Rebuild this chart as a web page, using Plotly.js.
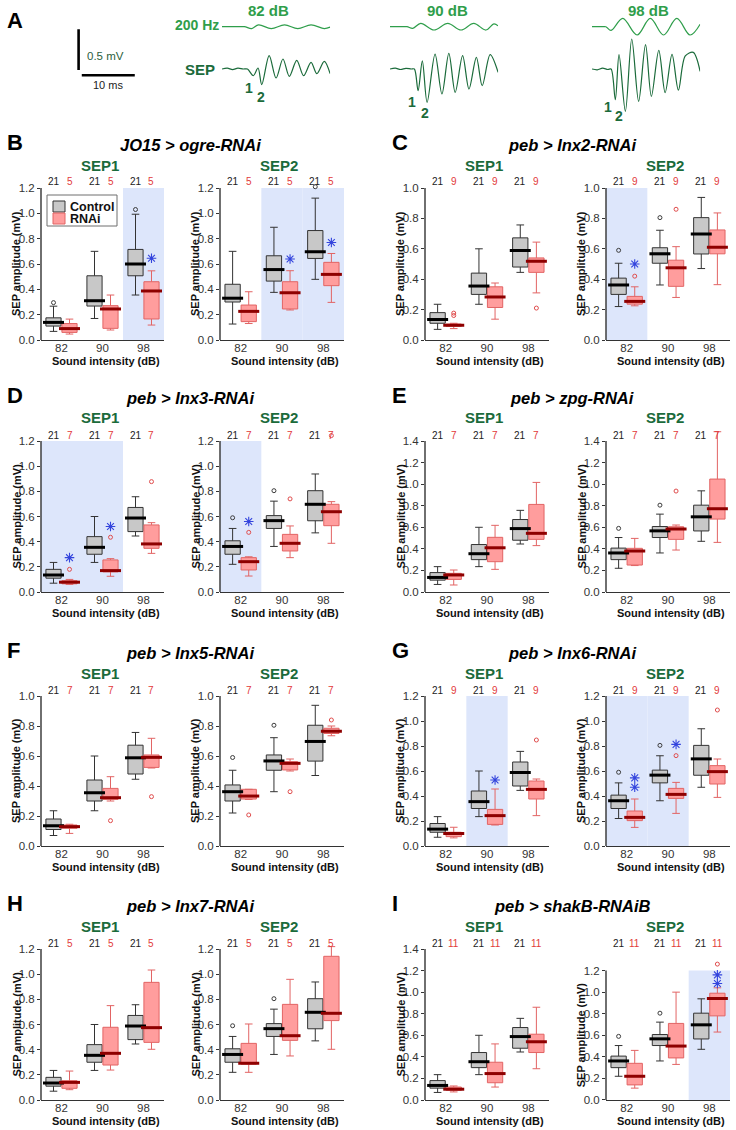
<!DOCTYPE html>
<html><head><meta charset="utf-8">
<script src="https://cdn.plot.ly/plotly-3.0.1.min.js"></script>
<style>html,body{margin:0;padding:0;background:#fff}#chart{width:736px;height:1130px}</style>
</head><body><div id="chart"></div>
<script>
// ---------------- DATA ----------------
const INTENSITY = ['82', '90', '98'];
const PANEL_LETTERS = ['B', 'C', 'D', 'E', 'F', 'G', 'H', 'I'];
const PANEL_TITLES = ['JO15 > ogre-RNAi', 'peb > Inx2-RNAi', 'peb > Inx3-RNAi', 'peb > zpg-RNAi',
  'peb > Inx5-RNAi', 'peb > Inx6-RNAi', 'peb > Inx7-RNAi', 'peb > shakB-RNAiB'];
const SEP_NAMES = ['SEP1', 'SEP2'];
const GROUP_NAMES = ['Control', 'RNAi'];
const N_CONTROL = [21, 21, 21, 21, 21, 21, 21, 21];
const N_RNAI = [5, 9, 7, 7, 7, 9, 5, 11];
const AXIS_TOP = [1.2, 1.0, 1.2, 1.4, 1.0, 1.2, 1.2, 1.4];
const TICK_TOP_SEP1 = [1.2, 1.0, 1.2, 1.4, 1.0, 1.2, 1.2, 1.4];
const TICK_TOP_SEP2 = [1.2, 1.0, 1.2, 1.4, 1.0, 1.2, 1.2, 1.2];

// box summaries per intensity: [lower whisker, Q1, median, Q3, upper whisker]
const JO15_SEP1_CTRL = [[0.068, 0.11, 0.139, 0.175, 0.267], [0.17, 0.268, 0.31, 0.507, 0.70], [0.355, 0.507, 0.60, 0.715, 0.993]];
const JO15_SEP1_CTRL_OUT = [[0.295], [], [1.03]];
const JO15_SEP2_CTRL = [[0.126, 0.30, 0.33, 0.44, 0.70], [0.376, 0.465, 0.556, 0.665, 0.89], [0.479, 0.644, 0.697, 0.864, 1.12]];
const JO15_SEP2_CTRL_OUT = [[], [], [1.21]];
const PEB_SEP1_CTRL = [[0.07, 0.11, 0.135, 0.18, 0.235], [0.235, 0.30, 0.355, 0.44, 0.60], [0.445, 0.48, 0.588, 0.672, 0.757]];
const PEB_SEP1_CTRL_OUT = [[], [], []];
const PEB_SEP2_CTRL = [[0.22, 0.30, 0.362, 0.407, 0.505], [0.362, 0.505, 0.567, 0.607, 0.722], [0.47, 0.566, 0.697, 0.805, 0.938]];
const PEB_SEP2_CTRL_OUT = [[0.59], [0.805], []];

const OGRE_SEP1 = [[0.047, 0.06, 0.09, 0.13, 0.165], [0.079, 0.092, 0.245, 0.271, 0.355], [0.118, 0.166, 0.387, 0.46, 0.546]];
const OGRE_SEP1_OUT = [[], [], []];
const OGRE_SEP2 = [[0.13, 0.145, 0.226, 0.276, 0.381], [0.237, 0.245, 0.373, 0.46, 0.547], [0.297, 0.429, 0.518, 0.613, 0.683]];
const OGRE_SEP2_OUT = [[], [], []];
const OGRE_SEP1_SIG = [[2, 0.645]];
const OGRE_SEP2_SIG = [[1, 0.64], [2, 0.77]];
const OGRE_SEP1_SHADE = [2];
const OGRE_SEP2_SHADE = [1, 2];

const INX2_SEP1 = [[0.075, 0.09, 0.097, 0.105, 0.11], [0.137, 0.214, 0.283, 0.35, 0.375], [0.31, 0.445, 0.518, 0.54, 0.644]];
const INX2_SEP1_OUT = [[0.161, 0.177], [], [0.21]];
const INX2_SEP2 = [[0.225, 0.236, 0.254, 0.287, 0.35], [0.28, 0.353, 0.475, 0.525, 0.614], [0.364, 0.567, 0.611, 0.724, 0.836]];
const INX2_SEP2_OUT = [[0.42], [0.86], []];
const INX2_SEP1_SIG = [];
const INX2_SEP2_SIG = [[0, 0.50]];
const INX2_SEP1_SHADE = [];
const INX2_SEP2_SHADE = [0];

const INX3_SEP1 = [[0.06, 0.065, 0.078, 0.09, 0.10], [0.125, 0.16, 0.17, 0.255, 0.265], [0.307, 0.347, 0.382, 0.533, 0.551]];
const INX3_SEP1_OUT = [[0.18], [0.435], [0.877]];
const INX3_SEP2 = [[0.127, 0.175, 0.241, 0.273, 0.28], [0.273, 0.326, 0.387, 0.458, 0.525], [0.387, 0.527, 0.638, 0.697, 0.718]];
const INX3_SEP2_OUT = [[0.474], [0.74], [1.243]];
const INX3_SEP1_SIG = [[0, 0.273], [1, 0.52]];
const INX3_SEP2_SIG = [[0, 0.56]];
const INX3_SEP1_SHADE = [0, 1];
const INX3_SEP2_SHADE = [0];

const ZPG_SEP1 = [[0.065, 0.117, 0.158, 0.173, 0.204], [0.21, 0.281, 0.41, 0.507, 0.618], [0.43, 0.488, 0.544, 0.812, 1.016]];
const ZPG_SEP1_OUT = [[], [], []];
const ZPG_SEP2 = [[0.245, 0.25, 0.38, 0.405, 0.497], [0.389, 0.488, 0.584, 0.605, 0.621], [0.46, 0.676, 0.772, 1.047, 1.486]];
const ZPG_SEP2_OUT = [[], [0.936], []];
const ZPG_SEP1_SIG = [];
const ZPG_SEP2_SIG = [];
const ZPG_SEP1_SHADE = [];
const ZPG_SEP2_SHADE = [];

const INX5_SEP1 = [[0.084, 0.118, 0.129, 0.14, 0.145], [0.30, 0.311, 0.322, 0.384, 0.462], [0.52, 0.524, 0.591, 0.607, 0.718]];
const INX5_SEP1_OUT = [[], [0.169], [0.329]];
const INX5_SEP2 = [[0.31, 0.313, 0.333, 0.378, 0.378], [0.50, 0.507, 0.551, 0.562, 0.58], [0.735, 0.75, 0.765, 0.785, 0.80]];
const INX5_SEP2_OUT = [[0.207], [0.362], [0.84]];
const INX5_SEP1_SIG = [];
const INX5_SEP2_SIG = [];
const INX5_SEP1_SHADE = [];
const INX5_SEP2_SHADE = [];

const INX6_SEP1 = [[0.065, 0.075, 0.10, 0.11, 0.15], [0.168, 0.173, 0.243, 0.293, 0.456], [0.243, 0.376, 0.453, 0.52, 0.536]];
const INX6_SEP1_OUT = [[], [], [0.848]];
const INX6_SEP2 = [[0.149, 0.203, 0.229, 0.28, 0.376], [0.261, 0.381, 0.413, 0.461, 0.509], [0.389, 0.496, 0.595, 0.643, 0.696]];
const INX6_SEP2_OUT = [[], [0.723], [1.088]];
const INX6_SEP1_SIG = [[1, 0.528]];
const INX6_SEP2_SIG = [[0, 0.47], [0, 0.545], [1, 0.813]];
const INX6_SEP1_SHADE = [1];
const INX6_SEP2_SHADE = [0, 1];

const INX7_SEP1 = [[0.082, 0.093, 0.14, 0.153, 0.23], [0.238, 0.278, 0.371, 0.578, 0.75], [0.403, 0.458, 0.575, 0.935, 1.033]];
const INX7_SEP1_OUT = [[], [], []];
const INX7_SEP2 = [[0.22, 0.285, 0.292, 0.45, 0.604], [0.35, 0.474, 0.511, 0.76, 0.959], [0.403, 0.631, 0.689, 1.142, 1.219]];
const INX7_SEP2_OUT = [[], [], []];
const INX7_SEP1_SIG = [];
const INX7_SEP2_SIG = [];
const INX7_SEP1_SHADE = [];
const INX7_SEP2_SHADE = [];

const SHAKB_SEP1 = [[0.075, 0.09, 0.10, 0.12, 0.13], [0.12, 0.16, 0.245, 0.35, 0.52], [0.29, 0.44, 0.54, 0.61, 0.86]];
const SHAKB_SEP1_OUT = [[], [], []];
const SHAKB_SEP2 = [[0.11, 0.14, 0.22, 0.34, 0.46], [0.33, 0.39, 0.50, 0.71, 1.00], [0.63, 0.78, 0.94, 0.99, 1.04]];
const SHAKB_SEP2_OUT = [[], [], [1.26, 1.40]];
const SHAKB_SEP1_SIG = [];
const SHAKB_SEP2_SIG = [[2, 1.08], [2, 1.16]];
const SHAKB_SEP1_SHADE = [];
const SHAKB_SEP2_SHADE = [2];

// Panel A traces: time (ms) and amplitude (SEP in mV, stimulus in relative units)
const A_LABELS = ['82 dB', '90 dB', '98 dB'];
const STIM82_T = [0, 2.0, 4.2, 5.6, 6.9, 9.3, 11.8, 14.3, 16.8, 19.3, 20.4];
const STIM82_V = [0, 0, 0, -0.22, 0.22, -0.22, 0.22, -0.22, 0.22, -0.22, -0.05];
const STIM90_T = [0, 2.0, 3.2, 4.3, 5.8, 8.3, 10.9, 13.4, 15.8, 18.1, 19.6, 20.4];
const STIM90_V = [0, 0, 0, -0.2, 0.4, -0.4, 0.4, -0.4, 0.4, -0.4, 0.35, 0.1];
const STIM98_T = [0, 2.0, 2.6, 3.6, 5.8, 8.5, 11.0, 13.5, 16.0, 18.5, 20.4];
const STIM98_V = [0, 0, 0, -0.45, 1.0, -1.0, 1.0, -1.0, 1.0, -1.0, 0.3];
const SEP82_T = [0, 1.0, 2.0, 3.0, 4.0, 4.8, 5.9, 6.8, 7.5, 8.9, 10.2, 11.5, 12.7, 14.1, 15.4, 16.8, 17.9, 19.3, 20.4];
const SEP82_V = [0, 0.01, -0.008, 0.01, 0, 0, -0.082, 0.012, -0.193, 0.164, -0.111, 0.123, -0.09, 0.107, -0.082, 0.082, -0.057, 0.094, -0.057];
const SEP90_T = [0, 1.0, 2.0, 3.0, 4.0, 4.6, 5.3, 6.1, 7.0, 8.5, 9.8, 11.1, 12.3, 13.7, 14.9, 16.3, 17.4, 18.9, 20.4];
const SEP90_V = [0, 0.01, -0.006, 0.008, 0, 0, -0.266, 0.10, -0.41, 0.184, -0.307, 0.193, -0.287, 0.164, -0.246, 0.143, -0.205, 0.176, -0.041];
const SEP98_T = [0, 1.0, 2.0, 3.0, 3.6, 4.4, 5.1, 6.3, 7.5, 8.8, 10.1, 11.2, 12.6, 13.8, 15.1, 16.3, 17.6, 19.1, 20.4];
const SEP98_V = [0, -0.01, 0.01, -0.006, 0, -0.377, 0.176, -0.52, 0.369, -0.398, 0.299, -0.336, 0.23, -0.29, 0.18, -0.26, 0.16, 0.205, -0.029];
const SEP_PEAK_LABELS = ['1', '2'];
const SEP_PEAK_IDX = [[6, 8], [6, 8], [5, 7]];   // indices of the labelled troughs in each SEP array
const SCALE_MS = 10;
const SCALE_MV = 0.5;

// ---------------- STYLE / GEOMETRY ----------------
const FONT = 'Arial, "Liberation Sans", Helvetica, sans-serif';
const W = 736, H = 1130;
const px2x = px => px / W;
const px2y = py => 1 - py / H;
const COL_AXES_PX = [[[41, 164], [220, 344]], [[425, 549], [606, 730]]];
const ROW_BOTTOM_PX = [340, 592, 846, 1100];
const ROW_TOP_PX = [188, 441, 696, 949];
const OFFSET = [-0.195, 0.195];
const BOX_WIDTH = 0.37;
const MEDIAN_PX = 15;
const C_FILL = ['#c8c8c8', '#ff9d9d'];
const C_LINE = ['#333333', '#e26464'];
const C_MED = ['#000000', '#8e0000'];
const C_OUT = ['#3c3c3c', '#e04c4c'];
const C_N = ['#222222', '#e23a3a'];
const C_SHADE = '#dde6fb';
const C_SIG = '#3344dd';
const GREEN_DARK = '#1b6b3b';
const GREEN_LIGHT = '#2f9e4b';
const AXIS_COLOR = '#333333';
const A_TITLE_PX = [268, 447, 648];
const A_LABEL_SHIFT = [[[-4, -2], [-1, -2]], [[-6, -1], [-2, -1]], [[-7, 3], [-6, 5]]];

const PANELS = [
  {ctrl: [JO15_SEP1_CTRL, JO15_SEP2_CTRL], ctrlOut: [JO15_SEP1_CTRL_OUT, JO15_SEP2_CTRL_OUT], rnai: [OGRE_SEP1, OGRE_SEP2], rnaiOut: [OGRE_SEP1_OUT, OGRE_SEP2_OUT], sig: [OGRE_SEP1_SIG, OGRE_SEP2_SIG], shade: [OGRE_SEP1_SHADE, OGRE_SEP2_SHADE]},
  {ctrl: [PEB_SEP1_CTRL, PEB_SEP2_CTRL], ctrlOut: [PEB_SEP1_CTRL_OUT, PEB_SEP2_CTRL_OUT], rnai: [INX2_SEP1, INX2_SEP2], rnaiOut: [INX2_SEP1_OUT, INX2_SEP2_OUT], sig: [INX2_SEP1_SIG, INX2_SEP2_SIG], shade: [INX2_SEP1_SHADE, INX2_SEP2_SHADE]},
  {ctrl: [PEB_SEP1_CTRL, PEB_SEP2_CTRL], ctrlOut: [PEB_SEP1_CTRL_OUT, PEB_SEP2_CTRL_OUT], rnai: [INX3_SEP1, INX3_SEP2], rnaiOut: [INX3_SEP1_OUT, INX3_SEP2_OUT], sig: [INX3_SEP1_SIG, INX3_SEP2_SIG], shade: [INX3_SEP1_SHADE, INX3_SEP2_SHADE]},
  {ctrl: [PEB_SEP1_CTRL, PEB_SEP2_CTRL], ctrlOut: [PEB_SEP1_CTRL_OUT, PEB_SEP2_CTRL_OUT], rnai: [ZPG_SEP1, ZPG_SEP2], rnaiOut: [ZPG_SEP1_OUT, ZPG_SEP2_OUT], sig: [ZPG_SEP1_SIG, ZPG_SEP2_SIG], shade: [ZPG_SEP1_SHADE, ZPG_SEP2_SHADE]},
  {ctrl: [PEB_SEP1_CTRL, PEB_SEP2_CTRL], ctrlOut: [PEB_SEP1_CTRL_OUT, PEB_SEP2_CTRL_OUT], rnai: [INX5_SEP1, INX5_SEP2], rnaiOut: [INX5_SEP1_OUT, INX5_SEP2_OUT], sig: [INX5_SEP1_SIG, INX5_SEP2_SIG], shade: [INX5_SEP1_SHADE, INX5_SEP2_SHADE]},
  {ctrl: [PEB_SEP1_CTRL, PEB_SEP2_CTRL], ctrlOut: [PEB_SEP1_CTRL_OUT, PEB_SEP2_CTRL_OUT], rnai: [INX6_SEP1, INX6_SEP2], rnaiOut: [INX6_SEP1_OUT, INX6_SEP2_OUT], sig: [INX6_SEP1_SIG, INX6_SEP2_SIG], shade: [INX6_SEP1_SHADE, INX6_SEP2_SHADE]},
  {ctrl: [PEB_SEP1_CTRL, PEB_SEP2_CTRL], ctrlOut: [PEB_SEP1_CTRL_OUT, PEB_SEP2_CTRL_OUT], rnai: [INX7_SEP1, INX7_SEP2], rnaiOut: [INX7_SEP1_OUT, INX7_SEP2_OUT], sig: [INX7_SEP1_SIG, INX7_SEP2_SIG], shade: [INX7_SEP1_SHADE, INX7_SEP2_SHADE]},
  {ctrl: [PEB_SEP1_CTRL, PEB_SEP2_CTRL], ctrlOut: [PEB_SEP1_CTRL_OUT, PEB_SEP2_CTRL_OUT], rnai: [SHAKB_SEP1, SHAKB_SEP2], rnaiOut: [SHAKB_SEP1_OUT, SHAKB_SEP2_OUT], sig: [SHAKB_SEP1_SIG, SHAKB_SEP2_SIG], shade: [SHAKB_SEP1_SHADE, SHAKB_SEP2_SHADE]}
];

const traces = [];
const annotations = [];
const shapes = [];
const layout = {
  width: W, height: H, margin: {l: 0, r: 0, t: 0, b: 0},
  paper_bgcolor: '#ffffff', plot_bgcolor: 'rgba(0,0,0,0)',
  font: {family: FONT, color: '#222'},
  showlegend: false,
  annotations: annotations, shapes: shapes
};

function ann(o) { annotations.push(Object.assign({showarrow: false, xref: 'paper', yref: 'paper'}, o)); }

PANELS.forEach((P, p) => {
  const row = Math.floor(p / 2), col = p % 2;
  const bottom = ROW_BOTTOM_PX[row];
  const topPx = ROW_TOP_PX[row];
  const scale = (bottom - topPx) / AXIS_TOP[p];
  ann({text: '<b>' + PANEL_LETTERS[p] + '</b>', x: px2x(col ? 390 : 5), y: px2y(topPx - 46), xanchor: 'left', yanchor: 'middle', font: {size: 22, color: '#000'}});
  ann({text: '<b><i>' + PANEL_TITLES[p] + '</i></b>', x: px2x(col ? 572 : 190), y: px2y(topPx - 43), xanchor: 'center', yanchor: 'middle', font: {size: 16.5, color: '#000'}});
  for (let s = 0; s < 2; s++) {
    const k = p * 2 + s + 1;
    const xa = 'x' + k, ya = 'y' + k;
    const [xl, xr] = COL_AXES_PX[col][s];
    const tickTop = s === 0 ? TICK_TOP_SEP1[p] : TICK_TOP_SEP2[p];
    const rMax = tickTop * 1.08;
    const topExt = bottom - rMax * scale;
    const tv = [];
    for (let v = 0; v <= tickTop + 1e-9; v += 0.2) tv.push(+v.toFixed(1));
    layout['xaxis' + k] = {domain: [px2x(xl), px2x(xr)], anchor: ya, range: [-0.5, 2.5],
      tickvals: INTENSITY.map((_, i) => i), ticktext: INTENSITY, showline: true, linecolor: AXIS_COLOR,
      linewidth: 1.4, ticks: '', ticklabelstandoff: -3, showgrid: false, zeroline: false,
      tickfont: {size: 11.5, color: '#333'}, fixedrange: true};
    layout['yaxis' + k] = {domain: [px2y(bottom), px2y(topExt)], anchor: xa, range: [0, rMax],
      tickvals: tv, ticktext: tv.map(v => v.toFixed(1)), ticks: 'outside', ticklen: 3, tickwidth: 1,
      tickcolor: AXIS_COLOR, showline: false, showgrid: false, zeroline: false,
      tickfont: {size: 11.5, color: '#333'}, fixedrange: true};
    shapes.push({type: 'line', xref: xa + ' domain', yref: ya, x0: 0, x1: 0, y0: 0, y1: tickTop,
      line: {color: AXIS_COLOR, width: 1.4}});
    P.shade[s].forEach(i => shapes.push({type: 'rect', layer: 'below', xref: xa, yref: ya,
      x0: i - 0.5, x1: i + 0.5, y0: 0, y1: tickTop, fillcolor: C_SHADE, line: {width: 0}}));
    const groups = [P.ctrl[s], P.rnai[s]];
    const outs = [P.ctrlOut[s], P.rnaiOut[s]];
    groups.forEach((stats, g) => {
      const xs = INTENSITY.map((_, i) => i + OFFSET[g]);
      traces.push({type: 'box', xaxis: xa, yaxis: ya, orientation: 'v', x: xs,
        lowerfence: stats.map(d => d[0]), q1: stats.map(d => d[1]), median: stats.map(d => d[2]),
        q3: stats.map(d => d[3]), upperfence: stats.map(d => d[4]),
        width: BOX_WIDTH, whiskerwidth: 0.5, boxpoints: false, fillcolor: C_FILL[g],
        line: {color: C_LINE[g], width: 1}, hoverinfo: 'skip', name: GROUP_NAMES[g], showlegend: false});
      traces.push({type: 'scatter', mode: 'markers', xaxis: xa, yaxis: ya, x: xs, y: stats.map(d => d[2]),
        marker: {symbol: 'line-ew', size: MEDIAN_PX, line: {width: 3, color: C_MED[g]}},
        hoverinfo: 'skip', showlegend: false});
      const ox = [], oy = [];
      outs[g].forEach((vals, i) => vals.forEach(v => { ox.push(i + OFFSET[g]); oy.push(v); }));
      if (ox.length) traces.push({type: 'scatter', mode: 'markers', xaxis: xa, yaxis: ya, x: ox, y: oy,
        cliponaxis: false, marker: {symbol: 'circle-open', size: 4, line: {width: 1, color: C_OUT[g]}, color: C_OUT[g]},
        hoverinfo: 'skip', showlegend: false});
      const n = g === 0 ? N_CONTROL[p] : N_RNAI[p];
      INTENSITY.forEach((_, i) => ann({text: String(n), xref: xa, x: i + OFFSET[g], y: px2y(topPx - 6),
        xanchor: 'center', yanchor: 'middle', font: {size: 10, color: C_N[g]}}));
    });
    if (P.sig[s].length) traces.push({type: 'scatter', mode: 'markers', xaxis: xa, yaxis: ya,
      x: P.sig[s].map(d => d[0] + OFFSET[1]), y: P.sig[s].map(d => d[1]), cliponaxis: false,
      marker: {symbol: 'asterisk-open', size: 8, line: {width: 1.1, color: C_SIG}, color: C_SIG},
      hoverinfo: 'skip', showlegend: false});
    ann({text: '<b>' + SEP_NAMES[s] + '</b>', x: px2x((xl + xr) / 2 - 3), y: px2y(topPx - 23),
      xanchor: 'center', yanchor: 'middle', font: {size: 15, color: GREEN_DARK}});
    ann({text: '<b>Sound intensity (dB)</b>', x: px2x((xl + xr) / 2 + 3), y: px2y(bottom + 21),
      xanchor: 'center', yanchor: 'middle', font: {size: 11, color: '#111'}});
    ann({text: '<b>SEP amplitude (mV)</b>', x: px2x(xl - 25), y: px2y(bottom - tickTop * scale / 2),
      xanchor: 'center', yanchor: 'middle', textangle: -90, font: {size: 11, color: '#111'}});
  }
});

// legend (panel B, SEP1)
shapes.push({type: 'rect', xref: 'paper', yref: 'paper', x0: px2x(47), x1: px2x(117), y0: px2y(226), y1: px2y(195),
  fillcolor: '#ffffff', line: {color: '#6e6e6e', width: 1}});
GROUP_NAMES.forEach((name, g) => {
  const yc = 206.5 + g * 12;
  shapes.push({type: 'rect', xref: 'paper', yref: 'paper', x0: px2x(53), x1: px2x(65), y0: px2y(yc + 5.5), y1: px2y(yc - 5.5),
    fillcolor: C_FILL[g], line: {color: C_LINE[g], width: 1}});
  ann({text: '<b>' + name + '</b>', x: px2x(68), y: px2y(yc), xanchor: 'left', yanchor: 'middle', font: {size: 12.5, color: '#111'}});
});

// ---------------- Panel A ----------------
const A_START_PX = [222, 390, 592];
const A_PX_PER_MS = 5.3;
const A_TMAX = 20.4;
const SEP_BASE_PX = 69, SEP_PX_PER_MV = 81.3;
const SEP_RANGE = [-0.6, 0.4];
const STIM_BASE_PX = 26.7, STIM_PX_PER_U = 8.3;
const STIM_RANGE = [-2.2, 2.2];
const stimT = [STIM82_T, STIM90_T, STIM98_T], stimV = [STIM82_V, STIM90_V, STIM98_V];
const sepT = [SEP82_T, SEP90_T, SEP98_T], sepV = [SEP82_V, SEP90_V, SEP98_V];

layout.yaxis17 = {domain: [px2y(SEP_BASE_PX - SEP_RANGE[0] * SEP_PX_PER_MV), px2y(SEP_BASE_PX - SEP_RANGE[1] * SEP_PX_PER_MV)],
  range: SEP_RANGE, visible: false, anchor: 'x17', fixedrange: true};
layout.yaxis18 = {domain: [px2y(STIM_BASE_PX - STIM_RANGE[0] * STIM_PX_PER_U), px2y(STIM_BASE_PX - STIM_RANGE[1] * STIM_PX_PER_U)],
  range: STIM_RANGE, visible: false, anchor: 'x17', fixedrange: true};
A_START_PX.forEach((x0, j) => {
  const k = 17 + j;
  layout['xaxis' + k] = {domain: [px2x(x0), px2x(x0 + A_TMAX * A_PX_PER_MS)], range: [0, A_TMAX],
    visible: false, anchor: 'y17', fixedrange: true};
  traces.push({type: 'scatter', mode: 'lines', xaxis: 'x' + k, yaxis: 'y18', x: stimT[j], y: stimV[j],
    line: {shape: 'spline', smoothing: 1, color: GREEN_LIGHT, width: 1.2}, hoverinfo: 'skip', showlegend: false});
  traces.push({type: 'scatter', mode: 'lines', xaxis: 'x' + k, yaxis: 'y17', x: sepT[j], y: sepV[j],
    line: {shape: 'spline', smoothing: 0.9, color: GREEN_DARK, width: 1.2}, hoverinfo: 'skip', showlegend: false});
  ann({text: '<b>' + A_LABELS[j] + '</b>', x: px2x(A_TITLE_PX[j]), y: px2y(10),
    xanchor: 'center', yanchor: 'middle', font: {size: 15, color: GREEN_LIGHT}});
  SEP_PEAK_IDX[j].forEach((idx, m) => ann({text: '<b>' + SEP_PEAK_LABELS[m] + '</b>', xref: 'x' + k, yref: 'y17',
    x: sepT[j][idx], y: sepV[j][idx], xanchor: 'center', yanchor: 'top',
    xshift: A_LABEL_SHIFT[j][m][0], yshift: A_LABEL_SHIFT[j][m][1],
    font: {size: 14, color: GREEN_DARK}}));
});
// scale bar
layout.xaxis20 = {domain: [px2x(78.6 - 1.5 * A_PX_PER_MS), px2x(78.6 + 12 * A_PX_PER_MS)], range: [-1.5, 12], visible: false, anchor: 'y20', fixedrange: true};
layout.yaxis20 = {domain: [px2y(70 + 0.1 * SEP_PX_PER_MV), px2y(70 - 0.55 * SEP_PX_PER_MV)], range: [-0.1, 0.55], visible: false, anchor: 'x20', fixedrange: true};
traces.push({type: 'scatter', mode: 'lines', xaxis: 'x20', yaxis: 'y20', x: [0, 0], y: [0, SCALE_MV],
  line: {color: '#000', width: 2.6}, hoverinfo: 'skip', showlegend: false});
traces.push({type: 'scatter', mode: 'lines', xaxis: 'x20', yaxis: 'y20', x: [0.6, 0.6 + SCALE_MS], y: [-0.065, -0.065],
  line: {color: '#000', width: 2.6}, hoverinfo: 'skip', showlegend: false});
ann({text: SCALE_MV + ' mV', x: px2x(85), y: px2y(56), xanchor: 'left', yanchor: 'middle', font: {size: 11.5, color: '#2c5e3c'}});
ann({text: SCALE_MS + ' ms', x: px2x(108), y: px2y(85), xanchor: 'center', yanchor: 'middle', font: {size: 11, color: '#222'}});
ann({text: '<b>A</b>', x: px2x(5), y: px2y(20), xanchor: 'left', yanchor: 'middle', font: {size: 22, color: '#000'}});
ann({text: '<b>200 Hz</b>', x: px2x(221), y: px2y(25), xanchor: 'right', yanchor: 'middle', font: {size: 14, color: GREEN_LIGHT}});
ann({text: '<b>SEP</b>', x: px2x(217), y: px2y(69), xanchor: 'right', yanchor: 'middle', font: {size: 15, color: GREEN_DARK}});

Plotly.newPlot('chart', traces, layout, {staticPlot: true, displayModeBar: false});
</script>
</body></html>
